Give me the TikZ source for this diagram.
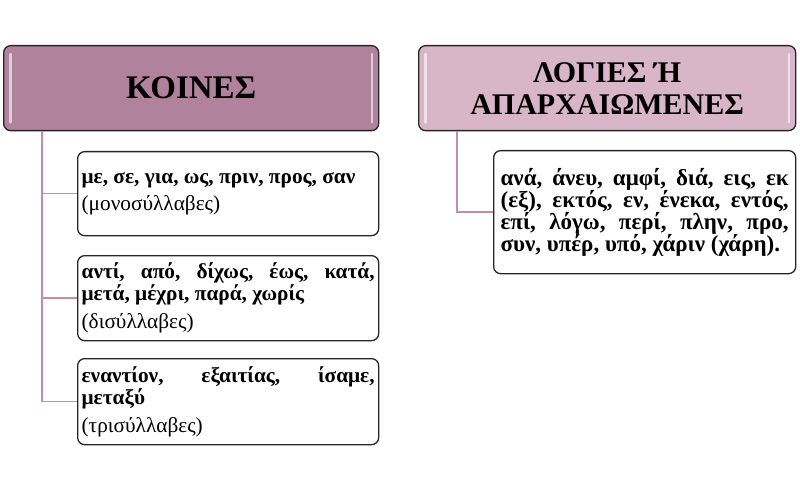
\documentclass[tikz,border=0pt]{standalone}
\usepackage{fontspec}
\setmainfont{Liberation Serif}
\usetikzlibrary{calc}
\definecolor{hdrA}{RGB}{176,130,155}
\definecolor{hdrB}{RGB}{216,182,200}
\definecolor{conn}{RGB}{196,140,166}
\begin{document}
\begin{tikzpicture}[x=1pt,y=-1pt,
  hdr/.style={draw=black!85, line width=1.3pt, rounded corners=7pt, minimum width=375pt,
    minimum height=85pt, anchor=north west, inner sep=0pt, align=center},
  kid/.style={draw=black!85, line width=1.3pt, rounded corners=7pt, fill=white,
    anchor=north west, inner xsep=4pt, inner ysep=0pt, text width=293pt, align=justify,
    font=\fontsize{21.3}{21.8}\selectfont},
  link/.style={draw=conn, line width=1.5pt},
  glint/.style={draw=white, opacity=0.6, line width=2.5pt, line cap=round}]
\useasboundingbox (0,0) rectangle (800,489);
% headers
\node[hdr, fill=hdrA, font=\bfseries\fontsize{33}{38}\selectfont] (h1) at (3,45) {ΚΟΙΝΕΣ};
\node[hdr, fill=hdrB, minimum width=377pt, font=\bfseries\fontsize{30}{32}\selectfont] (h2) at (418,45) {ΛΟΓΙΕΣ Ή\\ΑΠΑΡΧΑΙΩΜΕΝΕΣ};
\draw[glint] ($(h1.north west)+(7.5,9)$) -- ($(h1.south west)+(7.5,-9)$);
\draw[glint] ($(h1.north east)+(-7.5,9)$) -- ($(h1.south east)+(-7.5,-9)$);
\draw[glint] ($(h2.north west)+(7.5,9)$) -- ($(h2.south west)+(7.5,-9)$);
\draw[glint] ($(h2.north east)+(-7.5,9)$) -- ($(h2.south east)+(-7.5,-9)$);
% children
\node[kid, minimum height=84pt] (c1) at (77,151) {\hyphenpenalty=10000
  \textbf{με, σε, για, ως, πριν, προς, σαν}\par\vspace{6pt}(μονοσύλλαβες)};
\node[kid, minimum height=85pt] (c2) at (77,255) {\hyphenpenalty=10000
  \textbf{αντί, από, δίχως, έως, κατά,\linebreak μετά, μέχρι, παρά, χωρίς}\par\vspace{6pt}(δισύλλαβες)};
\node[kid, minimum height=86pt] (c3) at (77,358) {\hyphenpenalty=10000
  \textbf{εναντίον, εξαιτίας, ίσαμε,\linebreak μεταξύ}\par\vspace{6pt}(τρισύλλαβες)};
\node[kid, minimum height=123pt, inner xsep=7pt, text width=288pt,
  font=\bfseries\fontsize{23}{22}\selectfont] (c4) at (493,150) {\hyphenpenalty=10000
  ανά, άνευ, αμφί, διά, εις, εκ\linebreak (εξ), εκτός, εν, ένεκα, εντός,\linebreak
  επί, λόγω, περί, πλην, προ,\linebreak συν, υπέρ, υπό, χάριν (χάρη).};
% connectors
\coordinate (t1) at ($(h1.south west)+(39,0)$);
\coordinate (t2) at ($(h2.south west)+(39,0)$);
\draw[link] (t1) |- (c1.west);
\draw[link] (t1) |- (c2.west);
\draw[link] (t1) |- (c3.west);
\draw[link] (t2) |- (c4.west);
\end{tikzpicture}
\end{document}
